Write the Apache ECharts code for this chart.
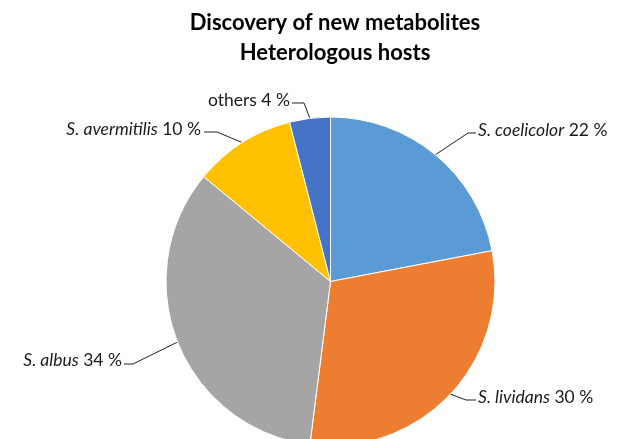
<!DOCTYPE html>
<html><head><meta charset="utf-8">
<script src="https://cdn.jsdelivr.net/npm/echarts@6/dist/echarts.min.js"></script>
<style>html,body{margin:0;padding:0;background:#fff}#c{width:622px;height:439px}</style>
</head><body><div id="c"></div>
<script>
const titleLines = ['Discovery of new metabolites', 'Heterologous hosts'];
const categories = ['S. coelicolor', 'S. lividans', 'S. albus', 'S. avermitilis', 'others'];
const values = [22, 30, 34, 10, 4];
const italicName = [true, true, true, true, false];
const colors = ['#5B9BD5', '#ED7D31', '#A5A5A5', '#FFC000', '#4472C4'];

// label placement: label anchor (x,y), alignment, bend point of leader line, end of leader line
const labelPlacement = [
  {x: 478, y: 130, align: 'left',  bend: [468, 133], end: [476, 133]},
  {x: 478, y: 397, align: 'left',  bend: [466, 400], end: [476, 400]},
  {x: 122, y: 360, align: 'right', bend: [133, 364], end: [124, 364]},
  {x: 201, y: 129, align: 'right', bend: [217, 132], end: [204, 132]},
  {x: 290, y: 100, align: 'right', bend: [304, 103], end: [292, 103]}
];

const FS = 17.5;
const chart = echarts.init(document.getElementById('c'), null, {renderer: 'canvas'});
chart.setOption({
  animation: false,
  backgroundColor: '#fff',
  title: {
    text: titleLines.join('\n'),
    left: 330,
    textAlign: 'center',
    top: 3,
    textStyle: {fontFamily: 'Lato', fontWeight: 'bold', fontSize: 22, lineHeight: 30, color: '#000'}
  },
  series: [{
    type: 'pie',
    center: [330.5, 281.5],
    radius: 164.5,
    startAngle: 90,
    clockwise: true,
    avoidLabelOverlap: false,
    itemStyle: {borderColor: '#fff', borderWidth: 1},
    data: categories.map((n, i) => ({name: n, value: values[i], itemStyle: {color: colors[i]}})),
    label: {
      show: true,
      fontFamily: 'Lato',
      fontSize: FS,
      color: '#1a1a1a',
      formatter: p => (italicName[p.dataIndex] ? '{i|' + p.name + '}' : '{n|' + p.name + '}') + '{n| ' + p.value + ' %}',
      rich: {
        i: {fontFamily: 'Lato', fontSize: FS, fontStyle: 'italic', color: '#1a1a1a'},
        n: {fontFamily: 'Lato', fontSize: FS, color: '#1a1a1a'}
      }
    },
    labelLine: {show: true, length: 20, length2: 10, lineStyle: {color: '#222', width: 1}},
    labelLayout: function (p) {
      const L = labelPlacement[p.dataIndex];
      const start = p.labelLinePoints ? p.labelLinePoints[0] : L.bend;
      return {
        x: L.x, y: L.y, align: L.align, verticalAlign: 'middle',
        labelLinePoints: [start, L.bend, L.end]
      };
    }
  }]
});
</script>
</body></html>
